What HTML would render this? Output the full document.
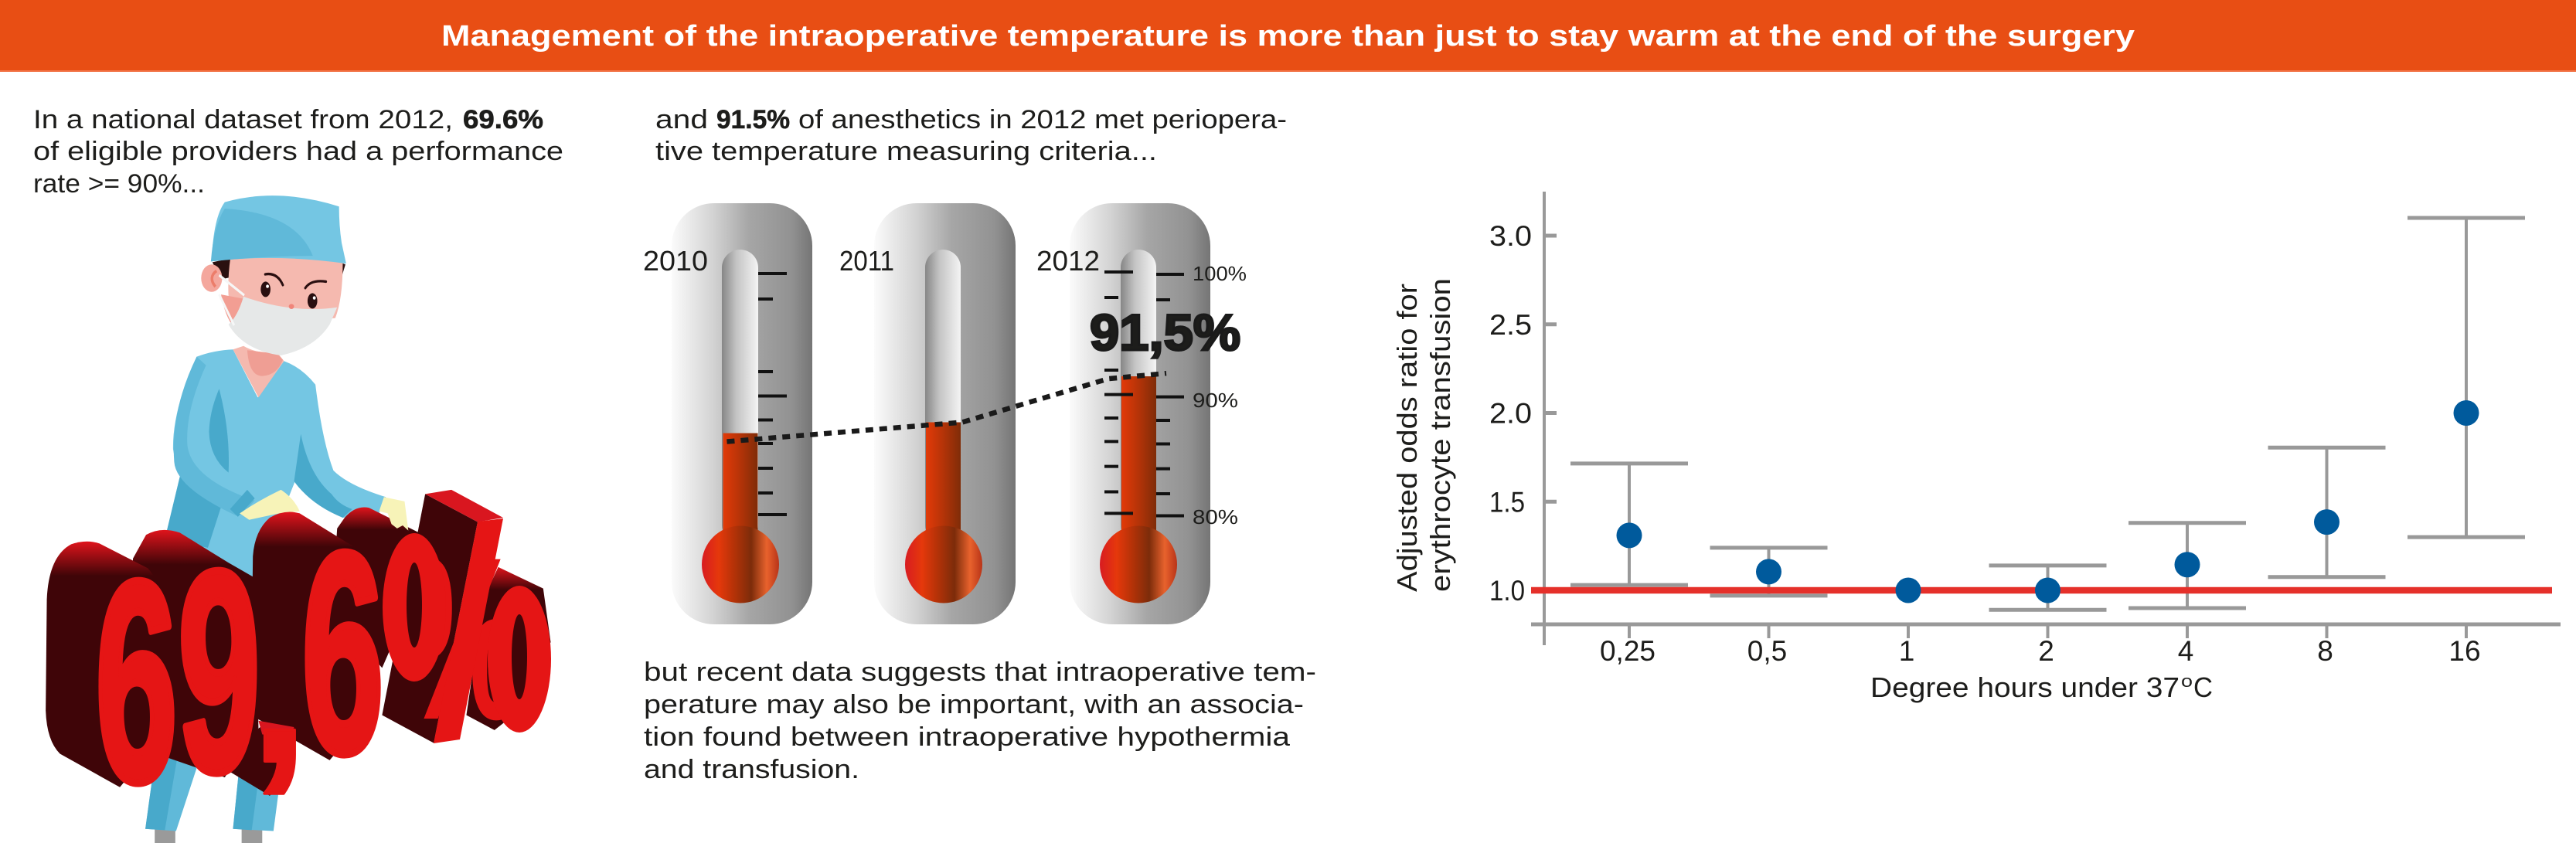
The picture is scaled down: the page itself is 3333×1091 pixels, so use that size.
<!DOCTYPE html>
<html lang="en">
<head>
<meta charset="utf-8">
<title>Management of the intraoperative temperature</title>
<style>
html,body{margin:0;padding:0;background:#fff;width:3333px;height:1091px;overflow:hidden}
svg{display:block}
text{font-family:"Liberation Sans",sans-serif;fill:#1d1d1b}
.body-text{font-size:34px}
.b{font-weight:bold;stroke:#1d1d1b;stroke-width:.6px}
.big{font-family:"Liberation Sans",sans-serif;font-weight:bold;fill:#e51515;font-size:370px;stroke:#e51515;stroke-width:10px;stroke-linejoin:round}
</style>
</head>
<body>
<svg xmlns="http://www.w3.org/2000/svg" width="3333" height="1091" viewBox="0 0 3333 1091">
<defs>
  <linearGradient id="outerGrad" x1="0" x2="1" y1="0" y2="0"><stop offset="0" stop-color="#fbfbfb"/><stop offset=".3" stop-color="#d2d2d2"/><stop offset=".55" stop-color="#a6a6a6"/><stop offset=".85" stop-color="#929292"/><stop offset="1" stop-color="#757575"/></linearGradient>
  <linearGradient id="tubeGrad" x1="0" x2="1" y1="0" y2="0"><stop offset="0" stop-color="#868686"/><stop offset=".4" stop-color="#c4c4c4"/><stop offset="1" stop-color="#f4f4f4"/></linearGradient>
  <linearGradient id="fillGrad" x1="0" x2="1" y1="0" y2="0"><stop offset="0" stop-color="#e23a08"/><stop offset=".45" stop-color="#b93408"/><stop offset="1" stop-color="#7f2c08"/></linearGradient>
  <linearGradient id="bulbGrad" x1="0" x2="1" y1="0" y2="0"><stop offset="0" stop-color="#d81c22"/><stop offset=".22" stop-color="#e5380b"/><stop offset=".42" stop-color="#b43208"/><stop offset=".64" stop-color="#7c2c0a"/><stop offset=".84" stop-color="#e8622d"/><stop offset="1" stop-color="#b93418"/></linearGradient>
  <linearGradient id="extrude" gradientUnits="objectBoundingBox" x1="0" x2="0" y1="0" y2="1"><stop offset="0" stop-color="#e0141c"/><stop offset=".14" stop-color="#3f0508"/><stop offset="1" stop-color="#3f0508"/></linearGradient>
</defs>

<!-- header -->
<rect x="0" y="0" width="3333" height="92" fill="#e84e14"/>
<rect x="0" y="91" width="3333" height="2" fill="#f3764a"/>
<text x="571" y="59" font-size="38" font-weight="bold" style="fill:#fff" textLength="2191" lengthAdjust="spacingAndGlyphs">Management of the intraoperative temperature is more than just to stay warm at the end of the surgery</text>

<!-- column 1 text -->
<g>
  <text class="body-text" x="43" y="166" textLength="543" lengthAdjust="spacingAndGlyphs">In a national dataset from 2012,</text>
  <text class="body-text b" x="599" y="166" textLength="104" lengthAdjust="spacingAndGlyphs">69.6%</text>
  <text class="body-text" x="43" y="207" textLength="686" lengthAdjust="spacingAndGlyphs">of eligible providers had a performance</text>
  <text class="body-text" x="43" y="249" textLength="222" lengthAdjust="spacingAndGlyphs">rate &gt;= 90%...</text>
</g>

<!-- column 2 text -->
<g>
  <text class="body-text" x="848" y="166" textLength="68" lengthAdjust="spacingAndGlyphs">and</text>
  <text class="body-text b" x="927" y="166" textLength="95" lengthAdjust="spacingAndGlyphs">91.5%</text>
  <text class="body-text" x="1033" y="166" textLength="632" lengthAdjust="spacingAndGlyphs">of anesthetics in 2012 met periopera-</text>
  <text class="body-text" x="848" y="207" textLength="649" lengthAdjust="spacingAndGlyphs">tive temperature measuring criteria...</text>
</g>
<g>
  <text class="body-text" x="833" y="881" textLength="870" lengthAdjust="spacingAndGlyphs">but recent data suggests that intraoperative tem-</text>
  <text class="body-text" x="833" y="923" textLength="854" lengthAdjust="spacingAndGlyphs">perature may also be important, with an associa-</text>
  <text class="body-text" x="833" y="965" textLength="836" lengthAdjust="spacingAndGlyphs">tion found between intraoperative hypothermia</text>
  <text class="body-text" x="833" y="1007" textLength="279" lengthAdjust="spacingAndGlyphs">and transfusion.</text>
</g>

<!-- surgeon, drawn in a local coordinate frame -->
<g transform="translate(0,220) scale(.4847,.5555)">
  <rect x="413" y="1530" width="55" height="38" fill="#9a9a9a"/>
  <rect x="645" y="1530" width="55" height="38" fill="#9a9a9a"/>
  <path d="M425 1300L388 1535L470 1540L530 1380Z" fill="#60b9d9"/>
  <path d="M425 1300L388 1535L440 1538L475 1360Z" fill="#48a9cb"/>
  <path d="M640 1380L622 1535L730 1540L745 1440Z" fill="#60b9d9"/>
  <path d="M640 1380L622 1535L672 1538L690 1420Z" fill="#48a9cb"/>
  <path d="M480 715L440 860L680 960L790 720L700 640Z" fill="#74c6e3"/>
  <path d="M480 715L440 860L555 880L590 785Z" fill="#48a9cb"/>
  <path d="M525 435Q570 420 622 418L688 530L758 445Q805 460 842 500Q860 630 890 700Q930 735 1030 762L1012 800L915 810Q820 770 785 725L760 790L620 790Q470 720 462 650Q460 560 525 435Z" fill="#74c6e3"/>
  <path d="M525 435L550 455Q495 560 500 640Q510 720 680 770L660 790L630 805Q470 740 465 680Q455 560 525 435Z" fill="#60b9d9"/>
  <path d="M585 510Q615 610 610 705Q560 670 558 610Q560 560 585 510Z" fill="#48a9cb"/>
  <path d="M803 615Q825 710 885 755Q905 780 940 790L915 810Q830 780 785 725Z" fill="#48a9cb"/>
  <path d="M660 745L680 765L635 808L614 790Z" fill="#48a9cb"/>
  <path d="M640 800Q690 770 750 745Q785 765 800 795L745 800L665 815Z" fill="#f7f3b8"/>
  <path d="M622 418L690 530L758 445L740 425Q690 430 650 410Z" fill="#f5b9af"/>
  <path d="M660 420Q665 480 700 480Q740 478 755 442L740 428Z" fill="#ef9e94"/>
  <path d="M567 215L620 205L615 250L590 255Z" fill="#2a1010"/>
  <path d="M900 212L922 220L910 255Z" fill="#2a1010"/>
  <path d="M615 205Q760 195 915 215Q915 300 895 345L625 370Q600 300 615 205Z" fill="#f5b9af"/>
  <ellipse cx="565" cy="252" rx="28" ry="32" fill="#f4a79d"/>
  <path d="M578 235Q555 250 575 272" fill="none" stroke="#ec7d6a" stroke-width="7"/>
  <path d="M590 290Q600 340 625 368L650 300Z" fill="#f29e93"/>
  <path d="M650 295Q780 335 900 320L880 360Q840 415 750 432Q650 420 610 360Q635 340 650 295Z" fill="#e6e8e8"/>
  <path d="M585 245L652 292M585 290L625 362" stroke="#f6f7f7" stroke-width="6" fill="none"/>
  <ellipse cx="709" cy="278" rx="13" ry="18" fill="#2a0f10"/>
  <ellipse cx="834" cy="305" rx="13" ry="18" fill="#2a0f10"/>
  <circle cx="714" cy="271" r="4" fill="#fff"/><circle cx="839" cy="298" r="4" fill="#fff"/>
  <path d="M708 243Q740 238 755 268M815 275Q830 255 870 260" fill="none" stroke="#2a0f10" stroke-width="6" stroke-linecap="round"/>
  <ellipse cx="778" cy="318" rx="7" ry="6" fill="#f0857a"/>
  <path d="M565 210Q570 110 600 75Q740 40 905 85Q905 130 912 170L924 218Q740 195 563 213Z" fill="#74c6e3"/>
  <path d="M563 213Q570 130 600 90Q790 100 835 200Q700 200 563 213Z" fill="#60b9d9"/>

  <!-- extruded sides of the 69,6% figure -->
  <g>
    <path d="M1330 925L1450 975L1470 1100L1400 1250L1320 1305L1245 1270L1290 1000Z" fill="url(#extrude)"/>
    <path d="M985 787Q950 780 920 810L900 835L885 1030L1020 1160L1100 1000L1195 880Q1170 860 1130 850Z" fill="url(#extrude)"/>
    <path d="M930 870L800 800Q760 790 720 810Q680 840 675 900L670 1270L880 1375L1000 1250L1000 900Z" fill="url(#extrude)"/>
    <path d="M610 915L480 845Q430 830 390 850L355 905L345 1090L450 1180L450 1370L600 1415L690 1300L680 950Z" fill="url(#extrude)"/>
    <path d="M395 928L265 870Q230 860 190 872Q130 900 125 1000L122 1260Q125 1330 160 1360L320 1438L450 1300L460 1000Z" fill="url(#extrude)"/>
    <path d="M610 1400L720 1458L785 1400L700 1295L640 1330Z" fill="#3f0508"/>
    <path d="M690 1283L785 1298L775 1320L700 1315Z" fill="#d9161f"/>
    <path d="M1135 755L1275 820L1158 1335L1020 1270Z" fill="#3f0508"/>
    <path d="M1135 755L1205 745L1343 810L1275 820Z" fill="#d9161f"/>
  </g>
</g>
<g>
  <text class="big" transform="translate(123,1010) scale(.52,1)">6</text>
  <text class="big" transform="translate(230,997) scale(.52,1)">9</text>
  <text class="big" style="font-size:270px;stroke-width:4px" transform="translate(324,985)">,</text>
  <text class="big" transform="translate(390,973) scale(.52,1)">6</text>
  <text class="big" style="font-size:300px;stroke-width:0" transform="translate(518,930) scale(.6,1)">%</text>
  <path d="M618 675L651 671L595 957L561 962Z" fill="#e51515"/>
  <ellipse cx="536" cy="786" rx="41" ry="96" fill="#e51515"/>
  <ellipse cx="536" cy="783" rx="10" ry="55" fill="#3f0508"/>
  <ellipse cx="672" cy="853" rx="41" ry="95" fill="#e51515"/>
  <ellipse cx="672" cy="850" rx="10" ry="55" fill="#3f0508"/>
</g>
<path transform="translate(0,220) scale(.4847,.5555)" d="M1025 762L1080 772L1090 840L1075 828L1060 835L1045 825L1035 800L1012 795Z" fill="#f7f3b8"/>

<!-- thermometers -->
<g>
  <rect x="869" y="263" width="182" height="545" rx="55" fill="url(#outerGrad)"/>
  <rect x="1131" y="263" width="183" height="545" rx="55" fill="url(#outerGrad)"/>
  <rect x="1384" y="263" width="182" height="545" rx="55" fill="url(#outerGrad)"/>
  <rect x="934" y="323" width="47" height="380" rx="23.5" fill="url(#tubeGrad)"/>
  <rect x="1197" y="323" width="46" height="380" rx="23" fill="url(#tubeGrad)"/>
  <rect x="1450" y="323" width="46" height="380" rx="23" fill="url(#tubeGrad)"/>
  <rect id="fill-2010" class="thermo-fill" x="935.5" width="45" fill="url(#fillGrad)"/>
  <rect id="fill-2011" class="thermo-fill" x="1198" width="45" fill="url(#fillGrad)"/>
  <rect id="fill-2012" class="thermo-fill" x="1451" width="45" fill="url(#fillGrad)"/>
  <circle cx="958" cy="730.5" r="50" fill="url(#bulbGrad)"/>
  <circle cx="1221" cy="730.5" r="50" fill="url(#bulbGrad)"/>
  <circle cx="1473" cy="730.5" r="50" fill="url(#bulbGrad)"/>
  <path d="M981 354H1018M981 387H1000M981 481H1000M981 512.5H1018M981 543.5H1000M981 574H1000M981 606H1000M981 638H1000M981 666H1018" stroke="#111" stroke-width="4" fill="none"/>
  <path d="M1496 355H1532M1496 388H1514M1496 513.6H1532M1496 544H1514M1496 574.5H1514M1496 606.6H1514M1496 639H1514M1496 667.5H1532" stroke="#111" stroke-width="4" fill="none"/>
  <path d="M1429 352H1466M1429 385H1447M1429 479H1447M1429 510.6H1466M1429 541H1447M1429 571.4H1447M1429 603.6H1447M1429 636.5H1447M1429 664.4H1466" stroke="#111" stroke-width="4" fill="none"/>
  <text x="832" y="350" font-size="36" textLength="84" lengthAdjust="spacingAndGlyphs">2010</text>
  <text x="1086" y="350" font-size="36" textLength="71" lengthAdjust="spacingAndGlyphs">2011</text>
  <text x="1341" y="350" font-size="36" textLength="82" lengthAdjust="spacingAndGlyphs">2012</text>
  <text x="1543" y="363" font-size="26" textLength="70" lengthAdjust="spacingAndGlyphs">100%</text>
  <text x="1543" y="527" font-size="26" textLength="59" lengthAdjust="spacingAndGlyphs">90%</text>
  <text x="1543" y="678" font-size="26" textLength="59" lengthAdjust="spacingAndGlyphs">80%</text>
  <polyline id="trend-line" fill="none" stroke="#1a1a1a" stroke-width="6.5" stroke-dasharray="10 8"/>
  <text x="1410" y="453" font-size="66" font-weight="bold" style="stroke:#1a1a1a;stroke-width:3px" textLength="195" lengthAdjust="spacingAndGlyphs">91,5%</text>
</g>

<!-- chart -->
<g id="chart">
  <line x1="1998" y1="248" x2="1998" y2="835" stroke="#999" stroke-width="4"/>
  <line x1="1981" y1="808" x2="3313" y2="808" stroke="#999" stroke-width="5"/>
  <g id="chart-marks"></g>
  <text x="2420" y="902" font-size="36" textLength="400" lengthAdjust="spacingAndGlyphs">Degree hours under 37</text>
  <text x="2822" y="889" font-size="22" textLength="15" lengthAdjust="spacingAndGlyphs">o</text>
  <text x="2838" y="902" font-size="36" textLength="25" lengthAdjust="spacingAndGlyphs">C</text>
  <g transform="translate(1833,766) rotate(-90)"><text x="0" y="0" font-size="36" textLength="399" lengthAdjust="spacingAndGlyphs">Adjusted odds ratio for</text></g>
  <g transform="translate(1876,766) rotate(-90)"><text x="0" y="0" font-size="36" textLength="406" lengthAdjust="spacingAndGlyphs">erythrocyte transfusion</text></g>
</g>

<script>
// Forest-plot data
const categories = ['0,25', '0,5', '1', '2', '4', '8', '16'];
const oddsRatio = [1.31, 1.105, 1.0, 1.0, 1.145, 1.385, 2.0];
const ciUpper = [1.715, 1.24, null, 1.14, 1.38, 1.805, 3.10];
const ciLower = [1.03, 0.97, null, 0.89, 0.90, 1.075, 1.30];
const yTickValues = [1.0, 1.5, 2.0, 2.5, 3.0];
const yTickLabels = ['1.0', '1.5', '2.0', '2.5', '3.0'];
const referenceValue = 1.0;

// Thermometer data (percent)
const thermoValues = [86.8, 87.7, 91.5];
const trendValues = [86.1, 87.7, 91.3, 91.75];

const SVG_NS = 'http://www.w3.org/2000/svg';
function xScale(i) { return 2108 + i * 180.5; }
function yScale(v) { return 764 - (v - 1) * 229.5; }
function thermoY(p) { return 354 + (100 - p) * 15.65; }

const marks = document.getElementById('chart-marks');
function make(tag, attrs) {
  const el = document.createElementNS(SVG_NS, tag);
  for (const k in attrs) el.setAttribute(k, attrs[k]);
  marks.appendChild(el);
  return el;
}

yTickValues.forEach(function (v, i) {
  const tick = make('line', { x1: 1998, x2: 2014, y1: yScale(v), y2: yScale(v), stroke: '#999', 'stroke-width': 5 });
  
  
  const label = make('text', { x: 1927, y: yScale(v) + 13, 'font-size': 37, textLength: v < 2 ? 46 : 55, lengthAdjust: 'spacingAndGlyphs' });
  label.textContent = yTickLabels[i];
  
  
});

categories.forEach(function (c, i) {
  const tick = make('line', { x1: xScale(i), x2: xScale(i), y1: 808, y2: 826, stroke: '#999', 'stroke-width': 4 });
  
  
  const label = make('text', { x: xScale(i) - 2, y: 855, 'font-size': 37, 'text-anchor': 'middle' });
  label.textContent = c;
  
  
});

categories.forEach(function (c, i) {
  if (ciUpper[i] === null) return;
  const stem = make('line', { x1: xScale(i), x2: xScale(i), y1: yScale(ciUpper[i]), y2: yScale(ciLower[i]), stroke: '#999', 'stroke-width': 4 });
  
  
  const capTop = make('line', { x1: xScale(i) - 76, x2: xScale(i) + 76, y1: yScale(ciUpper[i]), y2: yScale(ciUpper[i]), stroke: '#999', 'stroke-width': 5 });
  
  
  const capBottom = make('line', { x1: xScale(i) - 76, x2: xScale(i) + 76, y1: yScale(ciLower[i]), y2: yScale(ciLower[i]), stroke: '#999', 'stroke-width': 5 });
  
  
});

const refLine = make('line', { x1: 1981, x2: 3302, y1: yScale(referenceValue), y2: yScale(referenceValue), stroke: '#e5302a', 'stroke-width': 8.5 });



categories.forEach(function (c, i) {
  const dot = make('circle', { cx: xScale(i), cy: yScale(oddsRatio[i]), r: 16.5, fill: '#005a9c' });
  
  
});

// Thermometer fills and trend line
const fills = document.querySelectorAll('.thermo-fill');
thermoValues.forEach(function (p, i) {
  fills[i].setAttribute('y', thermoY(p));
  fills[i].setAttribute('height', 700 - thermoY(p));
});
const fill2012X = parseFloat(fills[2].getAttribute('x'));
const trendXs = [parseFloat(fills[0].getAttribute('x')) + 5, parseFloat(fills[1].getAttribute('x')) + 47, fill2012X - 17, fill2012X + 58];
document.getElementById('trend-line').setAttribute('points', trendValues.map(function (p, i) {
  return trendXs[i] + ',' + thermoY(p);
}).join(' '));
</script>
</svg>
</body>
</html>
